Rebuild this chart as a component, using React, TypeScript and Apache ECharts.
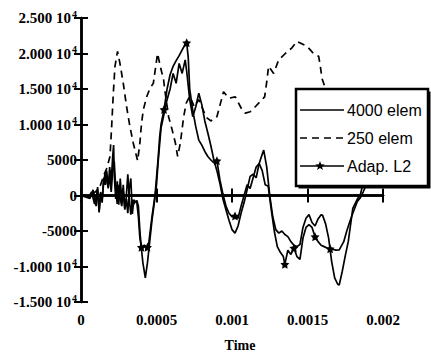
import React, { useEffect, useRef } from "react";
import * as echarts from "echarts";

// Time (s) and value pairs
const elem4000: [number, number][] = [
  [0, 0], [0.00003, -200], [0.00006, -400], [0.00008, 800], [0.0001, -1500], [0.00011, 1200], [0.00012, -2200],
  [0.00013, 500], [0.00014, -1000], [0.00015, 2500], [0.00016, 1500], [0.00017, 3500], [0.00018, 1000],
  [0.00019, 4000], [0.0002, 2000], [0.00021, 5500], [0.000216, 7100], [0.00022, 3000], [0.00023, -500],
  [0.00024, 2000], [0.00025, -1300], [0.00026, 2400], [0.00027, -800], [0.00028, 1500], [0.00029, -2000],
  [0.0003, -500], [0.00031, -2500], [0.00032, 1000], [0.00033, 2400], [0.00034, -2600], [0.00035, -600],
  [0.00036, -1000], [0.00037, -700], [0.00038, -1500], [0.00039, -5000], [0.0004, -7500], [0.00041, -9500],
  [0.000426, -11600], [0.00044, -9500], [0.00045, -7500], [0.00047, -3500], [0.00049, -300], [0.0005, 1500],
  [0.00051, 4500], [0.00052, 7000], [0.00053, 9500], [0.00055, 11500], [0.00057, 13500], [0.00059, 15000],
  [0.00061, 17200], [0.00063, 15800], [0.00065, 18600], [0.00067, 17200], [0.00069, 19100], [0.0007, 17500],
  [0.00072, 13500], [0.00074, 11100], [0.00076, 12500], [0.00078, 14400], [0.0008, 12800], [0.00082, 10500],
  [0.00084, 8800], [0.00086, 7000], [0.00088, 5000], [0.0009, 3500], [0.00092, 1700], [0.00094, -500],
  [0.00096, -2000], [0.00098, -3500], [0.001, -4800], [0.00102, -5300], [0.00104, -4300], [0.00106, -2500],
  [0.00108, -1000], [0.0011, 800], [0.00112, 2700], [0.00114, 3000], [0.00116, 2500], [0.00118, 4500],
  [0.0012, 5800], [0.00121, 6400], [0.00123, 4000], [0.00125, 0], [0.00127, -3000], [0.00129, -4800],
  [0.00131, -5300], [0.00133, -5000], [0.00135, -5500], [0.00137, -5800], [0.00139, -6500], [0.00141, -7000],
  [0.00143, -7200], [0.00145, -6900], [0.00147, -4500], [0.00149, -3200], [0.00151, -2700], [0.00153, -3800],
  [0.00155, -4300], [0.00157, -3300], [0.00159, -2700], [0.0016, -2800], [0.00162, -4000], [0.00164, -6000],
  [0.00166, -9300], [0.00168, -11600], [0.0017, -12500], [0.00171, -12600], [0.00173, -10700], [0.00175, -8500],
  [0.00177, -6500], [0.0018, -1800], [0.00183, -500], [0.00185, 100], [0.00186, 1000], [0.00189, 2500],
];

const elem250: [number, number][] = [
  [0, 0], [0.00005, -200], [0.0001, 600], [0.00013, 1500], [0.00015, 2800], [0.00017, 3800], [0.000192, 5500],
  [0.000203, 9700], [0.000214, 14400], [0.000225, 18200], [0.000242, 20300], [0.000258, 18600], [0.00028, 15800],
  [0.000302, 12500], [0.000324, 9700], [0.000346, 7400], [0.000368, 5500], [0.000375, 4900], [0.00039, 7400],
  [0.000401, 10200], [0.000413, 12100], [0.000435, 13900], [0.000457, 15100], [0.000479, 15800], [0.000507, 20000],
  [0.000525, 18200], [0.000547, 16300], [0.000558, 14400], [0.00058, 11100], [0.000603, 9300], [0.000625, 7400],
  [0.00064, 5500], [0.000658, 7400], [0.00068, 11100], [0.000697, 13000], [0.00072, 14000], [0.00075, 12500],
  [0.00078, 13500], [0.0008, 12500], [0.00083, 11000], [0.00086, 10500], [0.0009, 11100], [0.000944, 14600],
  [0.000978, 13700], [0.001022, 13900], [0.001066, 12100], [0.001088, 11600], [0.001121, 11800], [0.001154, 12500],
  [0.001199, 13500], [0.001216, 13900], [0.001232, 16300], [0.001242, 18200], [0.001276, 17200], [0.001309, 19100],
  [0.001353, 20000], [0.001397, 20800], [0.00143, 21700], [0.001497, 21000], [0.00154, 20000], [0.001574, 19600],
  [0.001585, 18200], [0.001596, 16500], [0.001618, 15100], [0.00168, 12000], [0.00175, 9000], [0.00182, 6000],
  [0.0019, 4000],
];

const adapL2: [number, number][] = [
  [0, 0], [0.00003, 0], [0.00005, -300], [0.00007, 500], [0.00009, -1200], [0.00011, 800], [0.00012, -2400],
  [0.00013, 300], [0.00014, -600], [0.00015, 1800], [0.00016, 3200], [0.00017, 2000], [0.00018, 1200],
  [0.00019, 2800], [0.0002, 500], [0.00021, 3500], [0.00022, 4800], [0.00023, 1000], [0.00024, -1200],
  [0.00025, 1500], [0.00026, -500], [0.00027, -1500], [0.00028, 500], [0.00029, -1800], [0.0003, -200],
  [0.00031, 3000], [0.00032, -500], [0.00033, -2700], [0.00034, -600], [0.00035, -1200], [0.00036, -800],
  [0.00037, -1000], [0.00038, -3000], [0.00039, -6000], [0.0004, -7300], [0.00042, -7000], [0.00044, -7300],
  [0.00045, -6500], [0.00047, -3000], [0.00049, 0], [0.0005, 2500], [0.00051, 5000], [0.00052, 8000],
  [0.00053, 10000], [0.00055, 12100], [0.00057, 15000], [0.00059, 17000], [0.00061, 18200], [0.00063, 19000],
  [0.00065, 19700], [0.00067, 20500], [0.00069, 21300], [0.0007, 21500], [0.00071, 19500], [0.00072, 15000],
  [0.00074, 12000], [0.00076, 9700], [0.00078, 7800], [0.0008, 7100], [0.00082, 6200], [0.00084, 5500],
  [0.00086, 5000], [0.00088, 4600], [0.0009, 4900], [0.00092, 2200], [0.00094, 200], [0.00096, -1500],
  [0.00098, -2500], [0.001, -3000], [0.00102, -2900], [0.00104, -3200], [0.00106, -1500], [0.00108, 0],
  [0.0011, 1500], [0.00112, 1000], [0.00114, 2500], [0.00116, 4000], [0.00118, 4500], [0.0012, 3500],
  [0.00122, 1500], [0.00124, 1300], [0.00126, -2000], [0.00128, -5000], [0.0013, -7200], [0.00132, -8000],
  [0.00134, -8600], [0.00135, -9700], [0.00137, -7700], [0.00139, -8300], [0.00141, -7400], [0.00143, -8600],
  [0.00145, -9000], [0.00147, -6000], [0.00149, -4500], [0.00151, -4100], [0.00153, -4500], [0.00155, -5800],
  [0.00157, -6500], [0.00159, -7000], [0.00161, -7200], [0.00163, -7400], [0.00165, -7500], [0.00167, -7600],
  [0.00169, -7700], [0.00171, -7650], [0.00174, -6500], [0.00176, -5000], [0.00178, -3700], [0.0018, -2500],
  [0.00183, -850], [0.00185, -300], [0.00187, 560], [0.0019, 2000],
];

// times at which the Adap. L2 curve carries a star marker
const adapStarTimes = [0.0004, 0.00044, 0.00055, 0.0007, 0.0009, 0.00102, 0.00135, 0.00141, 0.00155, 0.00165];

const seriesNames = ["4000 elem", "250 elem", "Adap. L2"];
const xTicks = [0, 0.0005, 0.001, 0.0015, 0.002];
const yMin = -15000;
const yMax = 25000;
const yStep = 5000;
const xLabel = "Time";

const STAR =
  "path://M0,-10 L2.9,-4 L9.5,-3.1 L4.8,1.5 L5.9,8.1 L0,5 L-5.9,8.1 L-4.8,1.5 L-9.5,-3.1 L-2.9,-4 Z";

const SERIF = "'Liberation Serif', 'Times New Roman', serif";
const SANS = "'Liberation Sans', Arial, sans-serif";

function starPoints(cx: number, cy: number, r: number): number[][] {
  const pts: number[][] = [];
  for (let i = 0; i < 10; i++) {
    const a = -Math.PI / 2 + (i * Math.PI) / 5;
    const rr = i % 2 === 0 ? r : r * 0.42;
    pts.push([cx + rr * Math.cos(a), cy + rr * Math.sin(a)]);
  }
  return pts;
}

export default function App() {
  const ref = useRef<HTMLDivElement>(null);
  useEffect(() => {
    if (!ref.current) return;
    const chart = echarts.init(ref.current, undefined, { renderer: "svg" });
    const axisLine = { show: true, lineStyle: { color: "#000", width: 2.5 } };
    const axisTick = { show: true, inside: true, length: 7, lineStyle: { color: "#000", width: 2 } };
    const xCommon = {
      type: "value" as const,
      min: xTicks[0],
      max: xTicks[xTicks.length - 1],
      interval: xTicks[1] - xTicks[0],
      splitLine: { show: false },
      axisLine,
      axisTick,
    };
    const yCommon = {
      type: "value" as const,
      min: yMin,
      max: yMax,
      interval: yStep,
      splitLine: { show: false },
      axisLine,
      axisTick,
    };

    // legend box drawn with graphic elements
    const lgX = 296;
    const lgY = 89;
    const lgW = 132;
    const lgH = 97;
    const rowY = [110, 138, 166];
    const lineX0 = 300;
    const lineX1 = 344;
    const textX = 347;
    const legendGraphics: any[] = [
      { type: "rect", z: 100, shape: { x: lgX + 2.5, y: lgY + 2.5, width: lgW, height: lgH }, style: { fill: "#000" } },
      {
        type: "rect",
        z: 101,
        shape: { x: lgX, y: lgY, width: lgW, height: lgH },
        style: { fill: "#fff", stroke: "#000", lineWidth: 2.5 },
      },
    ];
    seriesNames.forEach((name, i) => {
      legendGraphics.push({
        type: "line",
        z: 102,
        shape: { x1: lineX0, y1: rowY[i], x2: lineX1, y2: rowY[i] },
        style: { stroke: "#000", lineWidth: 1.6, lineDash: i === 1 ? [7, 5] : null },
      });
      legendGraphics.push({
        type: "text",
        z: 102,
        x: textX,
        y: rowY[i],
        style: {
          text: name,
          fontFamily: SANS,
          fontSize: 16,
          fill: "#000",
          align: "left",
          verticalAlign: "middle",
        },
      });
    });
    legendGraphics.push({
      type: "polygon",
      z: 103,
      shape: { points: starPoints((lineX0 + lineX1) / 2 - 2, rowY[2], 5) },
      style: { fill: "#000" },
    });

    chart.setOption({
      animation: false,
      backgroundColor: "#fff",
      grid: { left: 81, right: 48, top: 18, bottom: 52 },
      xAxis: [
        {
          ...xCommon,
          position: "bottom",
          axisLabel: {
            margin: 10,
            color: "#000",
            fontFamily: SERIF,
            fontWeight: "bold",
            fontSize: 15,
            formatter: (v: number) => String(Number(v.toFixed(4))),
          },
        },
        { ...xCommon, position: "top", axisLabel: { show: false } },
      ],
      yAxis: [
        {
          ...yCommon,
          position: "left",
          axisLabel: {
            margin: 4,
            color: "#000",
            formatter: (v: number) => {
              if (Math.abs(v) >= 10000) {
                return `{m|${(v / 10000).toFixed(3)} 10}{e|4}`;
              }
              return `{m|${v}}`;
            },
            rich: {
              m: { fontFamily: SERIF, fontWeight: "bold", fontSize: 15, color: "#000" },
              e: {
                fontFamily: SERIF,
                fontWeight: "bold",
                fontSize: 10,
                color: "#000",
                verticalAlign: "top",
                padding: [0, 0, 8, 1],
              },
            },
          },
        },
        { ...yCommon, position: "right", axisLabel: { show: false } },
      ],
      graphic: [
        {
          type: "text",
          x: 240,
          y: 345,
          style: {
            text: xLabel,
            fontFamily: SERIF,
            fontWeight: "bold",
            fontSize: 14,
            fill: "#000",
            align: "center",
            verticalAlign: "middle",
          },
        },
        ...legendGraphics,
      ],
      series: [
        {
          name: seriesNames[0],
          type: "line",
          data: elem4000,
          symbol: "none",
          lineStyle: { color: "#000", width: 1.7 },
          itemStyle: { color: "#000" },
        },
        {
          name: seriesNames[1],
          type: "line",
          data: elem250,
          symbol: "none",
          lineStyle: { color: "#000", width: 1.7, type: [7, 5] },
          itemStyle: { color: "#000" },
        },
        {
          name: seriesNames[2],
          type: "line",
          symbol: STAR,
          symbolSize: 9,
          showAllSymbol: true,
          data: adapL2.map(([t, v]) => ({
            value: [t, v],
            symbol: adapStarTimes.includes(t) ? STAR : "none",
          })),
          lineStyle: { color: "#000", width: 1.7 },
          itemStyle: { color: "#000" },
        },
      ],
    });
    return () => chart.dispose();
  }, []);
  return (
    <div
      ref={ref}
      style={{ position: "fixed", left: 0, top: 0, width: 431, height: 354 }}
    />
  );
}
